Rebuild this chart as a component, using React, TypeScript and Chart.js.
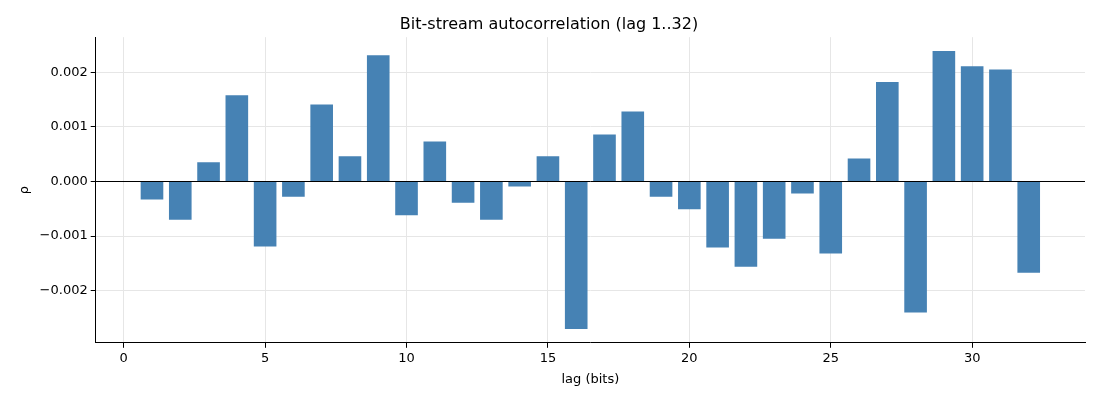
import React, { useEffect, useRef } from "react";
import { Chart, registerables } from "chart.js";
Chart.register(...registerables);

const lags = Array.from({ length: 32 }, (_, i) => i + 1);
const rho = [
  -0.00033, -0.0007, 0.00035, 0.00158, -0.00119, -0.00028, 0.00141, 0.00046,
  0.00231, -0.00062, 0.00073, -0.00039, -0.0007, -0.00009, 0.00046, -0.0027,
  0.00086, 0.00128, -0.00028, -0.00051, -0.00121, -0.00156, -0.00105, -0.00022,
  -0.00132, 0.00042, 0.00182, -0.0024, 0.00239, 0.00211, 0.00205, -0.00167,
];
const xTicks = [0, 5, 10, 15, 20, 25, 30];
const yTicks = [-0.002, -0.001, 0, 0.001, 0.002];

export default function App() {
  const ref = useRef<HTMLCanvasElement>(null);
  useEffect(() => {
    document.body.style.margin = "0";
    const font = { family: "DejaVu Sans", size: 13 };
    const chart = new Chart(ref.current!, {
      type: "bar",
      data: {
        datasets: [
          {
            data: lags.map((x, i) => ({ x, y: rho[i] })),
            backgroundColor: "#4682b4",
            categoryPercentage: 1,
            barPercentage: 0.8,
          },
        ],
      },
      options: {
        animation: false,
        responsive: false,
        layout: { padding: { top: 4, right: 15, left: 13, bottom: 9 } },
        plugins: {
          legend: { display: false },
          tooltip: { enabled: false },
          title: {
            display: true,
            text: "Bit-stream autocorrelation (lag 1..32)",
            color: "#000",
            font: { family: "DejaVu Sans", size: 16, weight: "normal" },
            padding: { top: 11, bottom: 3 },
          },
        },
        scales: {
          x: {
            type: "linear",
            offset: false,
            min: -0.99,
            max: 33.99,
            afterBuildTicks: (s: any) => { s.ticks = xTicks.map((v) => ({ value: v })); },
            ticks: { color: "#000", font, callback: (v: any) => String(v) },
            grid: { offset: false, color: "#e6e6e6", tickColor: "#000", tickLength: 5 },
            border: { color: "#000" },
            title: { display: true, text: "lag (bits)", color: "#000", font, padding: { top: 2 } },
          },
          y: {
            min: -0.002954,
            max: 0.002642,
            afterBuildTicks: (s: any) => { s.ticks = yTicks.map((v) => ({ value: v })); },
            ticks: {
              color: "#000",
              font,
              callback: (v: any) => (v < 0 ? "\u2212" : "") + Math.abs(v).toFixed(3),
            },
            grid: {
              color: (c: any) => (c.tick && c.tick.value === 0 ? "#000" : "#e6e6e6"),
              tickColor: "#000",
              tickLength: 5,
            },
            border: { color: "#000" },
            title: { display: true, text: "ρ", color: "#000", font },
          },
        },
      },
    });
    return () => chart.destroy();
  }, []);
  return <canvas ref={ref} width={1100} height={400} style={{ width: 1100, height: 400, display: "block" }} />;
}
